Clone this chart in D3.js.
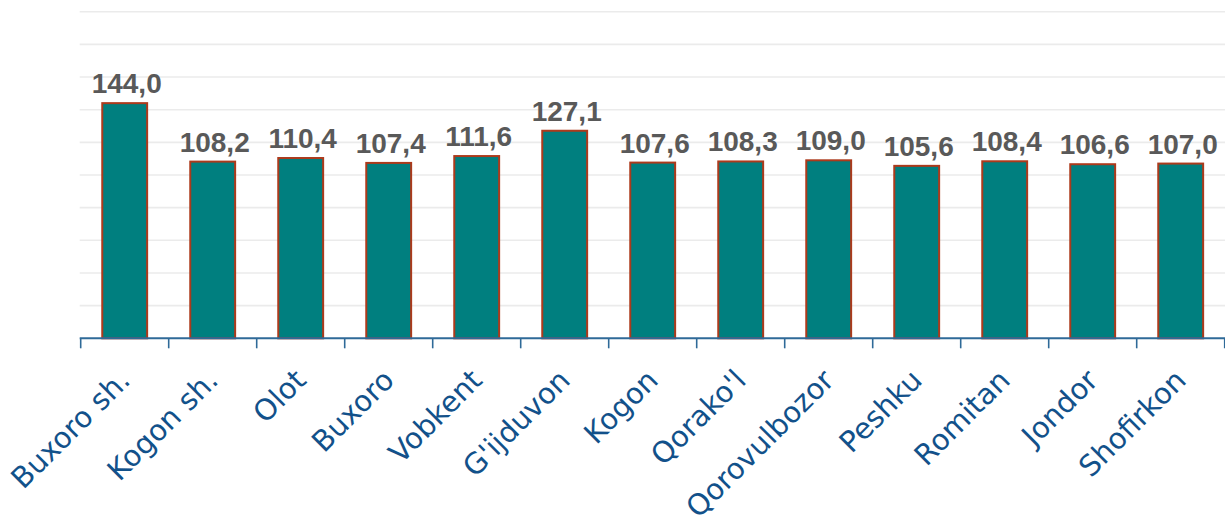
<!DOCTYPE html>
<html>
<head>
<meta charset="utf-8">
<script src="https://cdn.jsdelivr.net/npm/d3@7"></script>
<style>
  html, body { margin: 0; padding: 0; background: #ffffff; }
  svg { display: block; }
</style>
</head>
<body>
<svg id="chart" width="1225" height="523"></svg>
<script>
// District names and their index values
const categories = ["Buxoro sh.", "Kogon sh.", "Olot", "Buxoro", "Vobkent", "G'ijduvon", "Kogon",
                    "Qorako'l", "Qorovulbozor", "Peshku", "Romitan", "Jondor", "Shofirkon"];
const values = [144.0, 108.2, 110.4, 107.4, 111.6, 127.1, 107.6, 108.3, 109.0, 105.6, 108.4, 106.6, 107.0];
const gridTicks = [20, 40, 60, 80, 100, 120, 140, 160, 180, 200];

const W = 1225, H = 523;
const plotLeft = 80.7, plotRight = 1224.7, plotTop = 11.7, plotBottom = 338.3;

const svg = d3.select("#chart");

const x = d3.scaleBand()
  .domain(categories)
  .range([plotLeft, plotRight])
  .paddingInner(0.49)
  .paddingOuter(0.245);

const y = d3.scaleLinear().domain([0, 200]).range([plotBottom, plotTop]);

const fmt = d3.formatLocale({ decimal: ",", thousands: " ", grouping: [3], currency: ["", ""] }).format(".1f");

// horizontal gridlines
svg.append("g")
  .selectAll("line")
  .data(gridTicks)
  .join("line")
  .attr("x1", plotLeft - 1)
  .attr("x2", W)
  .attr("y1", d => y(d))
  .attr("y2", d => y(d))
  .attr("stroke", "#ebebeb")
  .attr("stroke-width", 1.6);

// bars
svg.append("g")
  .selectAll("rect")
  .data(values)
  .join("rect")
  .attr("x", (d, i) => x(categories[i]))
  .attr("y", d => y(d))
  .attr("width", x.bandwidth())
  .attr("height", d => y(0) - y(d))
  .attr("fill", "#007f7f")
  .attr("stroke", "#ac3a1c")
  .attr("stroke-width", 2);

// value labels
svg.append("g")
  .selectAll("text")
  .data(values)
  .join("text")
  .attr("x", (d, i) => x(categories[i]) + x.bandwidth() / 2 + 2)
  .attr("y", d => y(d) - 10)
  .attr("text-anchor", "middle")
  .attr("font-family", "'Liberation Sans', Arial, sans-serif")
  .attr("font-weight", "bold")
  .attr("font-size", 28)
  .attr("fill", "#595959")
  .text(d => fmt(d));

// category axis with ticks between categories
const axisColor = "#2f6a98";
const step = x.step();
const tickPos = d3.range(categories.length + 1).map(i => plotLeft + i * step);
const axis = svg.append("g");
axis.append("line")
  .attr("x1", plotLeft - 1).attr("x2", W)
  .attr("y1", plotBottom).attr("y2", plotBottom)
  .attr("stroke", axisColor).attr("stroke-width", 2);
axis.selectAll("line.tick")
  .data(tickPos)
  .join("line")
  .attr("class", "tick")
  .attr("x1", d => d).attr("x2", d => d)
  .attr("y1", plotBottom).attr("y2", plotBottom + 10)
  .attr("stroke", axisColor).attr("stroke-width", 1.6);

// rotated category labels
axis.selectAll("text")
  .data(categories)
  .join("text")
  .attr("transform", d => `translate(${x(d) + x.bandwidth() / 2 + 7},${382}) rotate(-45)`)
  .attr("text-anchor", "end")
  .attr("font-family", "'DejaVu Sans', sans-serif")
  .attr("font-size", 29)
  .attr("fill", "#12518a")
  .text(d => d);
</script>
</body>
</html>
